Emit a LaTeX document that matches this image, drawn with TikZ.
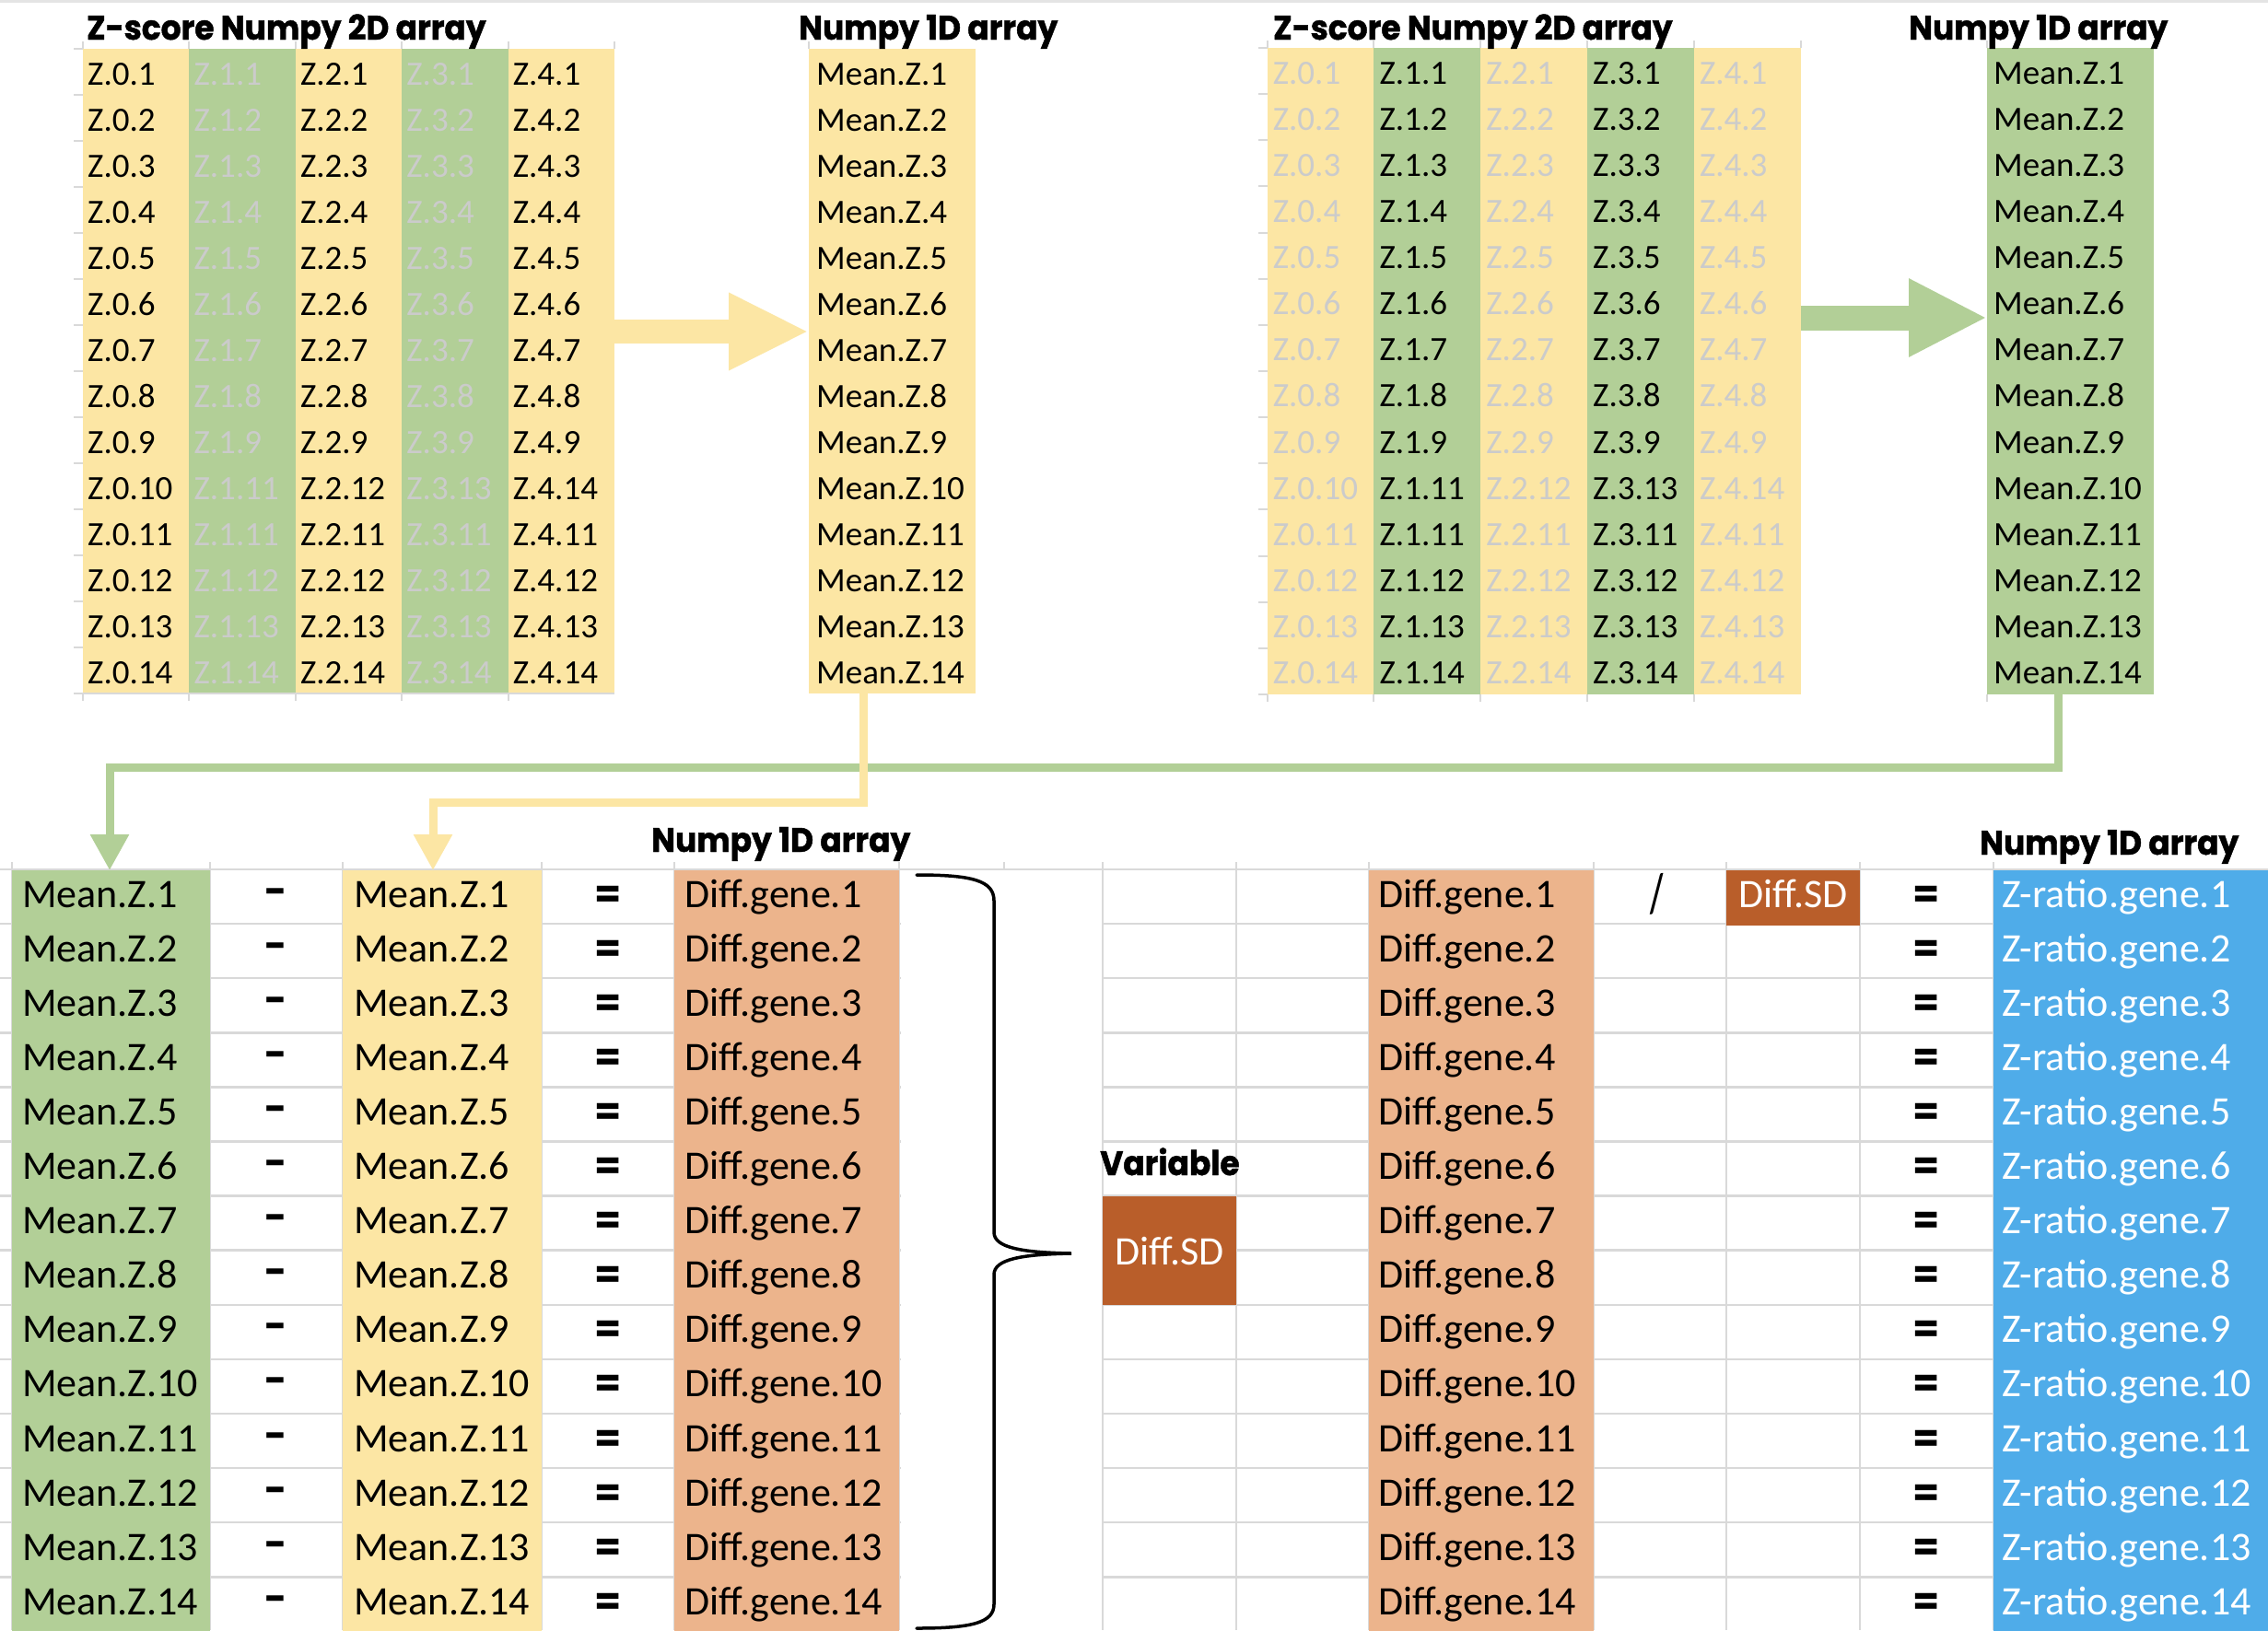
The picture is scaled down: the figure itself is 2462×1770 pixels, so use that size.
\documentclass[tikz,border=0pt]{standalone}
\usepackage{fontspec}
\setmainfont{Carlito}
\newfontfamily\headfont{Poppins}[FakeStretch=0.93,FakeBold=1.2]
\newfontfamily\symfont{Poppins}
\usetikzlibrary{arrows.meta,calc}
\definecolor{yel}{HTML}{FCE6A4}
\definecolor{grn}{HTML}{B2CF97}
\definecolor{org}{HTML}{ECB48C}
\definecolor{dorg}{HTML}{B95E2A}
\definecolor{blu}{HTML}{4FACE9}
\definecolor{fade}{HTML}{CBCBCB}
\definecolor{gridc}{HTML}{D9D9D9}
\definecolor{topline}{HTML}{E4E4E4}
\begin{document}
\begin{tikzpicture}[x=1pt,y=-1pt,
  head/.style={font=\headfont\bfseries\fontsize{37}{37}\selectfont, inner sep=0, anchor=base west},
  tcell/.style={font=\fontsize{37}{37}\selectfont, inner sep=0, anchor=base west},
  bcell/.style={font=\fontsize{44}{44}\selectfont, inner sep=0, anchor=base west},
  bsym/.style={font=\symfont\bfseries\fontsize{42}{42}\selectfont, inner sep=0, anchor=base},
  colbox/.style={inner sep=0, outer sep=0, anchor=north west, draw=none},
  gridl/.style={draw=gridc, line width=2.5pt},
  tick/.style={draw=gridc, line width=2pt},
  conn/.style={line width=9pt, line join=miter, -{Triangle[length=39pt,width=40pt]}}
]
\useasboundingbox (0,0) rectangle (2462,1770);
\fill[white] (0,0) rectangle (2462,1770);
\draw[draw=topline, line width=3pt] (0,1.5) -- (2462,1.5);

% ---------- top-left 2D table ----------
\foreach \c/\col/\tc in {0/yel/black,1/grn/fade,2/yel/black,3/grn/fade,4/yel/black}{
  \node[colbox, fill=\col, minimum width=115.4pt, minimum height=700pt] (TL\c) at ({90+115.4*\c},53) {};
  \draw[tick] ({90+115.4*\c},45) -- ({90+115.4*\c},53);
  \draw[tick] ({90+115.4*\c},753) -- ({90+115.4*\c},761);
  \foreach \r in {1,...,14}{
    \pgfmathtruncatemacro\n{ifthenelse(\r==10,10+\c,\r)}
    \node[tcell, text=\tc] (tl-\c-\r) at ({90+115.4*\c+5},{53+50*(\r-1)+39}) {Z.\c.\n};
  }
}
\draw[tick] (667,45) -- (667,53);
\foreach \k in {0,...,14} \draw[tick] (80,{53+50*\k}) -- (90,{53+50*\k});
\draw[tick] (80,753) -- (667,753);

% ---------- top-left 1D array ----------
\node[colbox, fill=yel, minimum width=181pt, minimum height=700pt] (M1) at (878,53) {};
\draw[tick] (878,45) -- (878,53);
\foreach \r in {1,...,14}
  \node[tcell] (m1-\r) at (886,{53+50*(\r-1)+39}) {Mean.Z.\r};

% ---------- top-right 2D table ----------
\foreach \c/\col/\tc in {0/yel/fade,1/grn/black,2/yel/fade,3/grn/black,4/yel/fade}{
  \node[colbox, fill=\col, minimum width=115.8pt, minimum height=702pt] (TR\c) at ({1375.6+115.8*\c},52) {};
  \draw[tick] ({1375.6+115.8*\c},44) -- ({1375.6+115.8*\c},52);
  \draw[tick] ({1375.6+115.8*\c},754) -- ({1375.6+115.8*\c},762);
  \foreach \r in {1,...,14}{
    \pgfmathtruncatemacro\n{ifthenelse(\r==10,10+\c,\r)}
    \node[tcell, text=\tc] (tr-\c-\r) at ({1375.6+115.8*\c+6},{52+50.14*(\r-1)+39}) {Z.\c.\n};
  }
}
\draw[tick] (1954.6,44) -- (1954.6,52);
\foreach \k in {0,...,14} \draw[tick] (1366,{52+50.14*\k}) -- (1375.6,{52+50.14*\k});

% ---------- top-right 1D array ----------
\node[colbox, fill=grn, minimum width=181pt, minimum height=702pt] (M2) at (2157,52) {};
\draw[tick] (2157,44) -- (2157,52);
\draw[tick] (2157,754) -- (2157,762);
\foreach \r in {1,...,14}
  \node[tcell] (m2-\r) at (2164,{52+50.14*(\r-1)+39}) {Mean.Z.\r};

% ---------- headings ----------
\node[head] (h1) at (94,43) {Z-score Numpy 2D array};
\node[head] (h2) at (867,43) {Numpy 1D array};
\node[head] (h3) at (1382,43) {Z-score Numpy 2D array};
\node[head] (h4) at (2072,43) {Numpy 1D array};

% ---------- block arrows ----------
\draw[yel, line width=26pt, -{Triangle[length=87pt,width=78pt]}] (TL4.east |- 0,360) -- (M1.west |- 0,360);
\draw[grn, line width=27pt, -{Triangle[length=85pt,width=79pt]}] (TR4.east |- 0,345) -- (M2.west |- 0,345);

% ---------- bottom grid ----------
\foreach \k in {0,...,13} \draw[gridl] (0,{944+59.1*\k}) -- (2462,{944+59.1*\k});
\foreach \x in {13,228,372,588,732,976,1197,1342,1486,1730,1874,2019,2164}
  \draw[gridl] (\x,936) -- (\x,1770);
\draw[gridl] (1090,936) -- (1090,944);

\node[colbox, fill=grn, minimum width=215pt, minimum height=826pt] (B0) at (13,945) {};
\node[colbox, fill=yel, minimum width=216pt, minimum height=826pt] (B2) at (372,945) {};
\node[colbox, fill=org, minimum width=244pt, minimum height=826pt] (B4) at (732,945) {};
\node[colbox, fill=org, minimum width=244pt, minimum height=826pt] (B7) at (1486,945) {};
\node[colbox, fill=blu, minimum width=298pt, minimum height=826pt] (B10) at (2164,945) {};
\fill[white] (977.5,946.5) rectangle (1195.5,1770);

% ---------- bottom texts ----------
\foreach \r in {1,...,14}{
  \pgfmathsetmacro\yb{944+59.1*(\r-1)+41}
  \node[bcell] (bg-\r) at (24,\yb) {Mean.Z.\r};
  \node[bsym] (bm-\r) at (300,{\yb-3}) {-};
  \node[bcell] (by-\r) at (384,\yb) {Mean.Z.\r};
  \node[bsym] (be-\r) at (660,\yb) {=};
  \node[bcell] (bo-\r) at (743,\yb) {Diff.gene.\r};
  \node[bcell] (bd-\r) at (1496,\yb) {Diff.gene.\r};
  \node[bsym] (bq-\r) at (2091.5,\yb) {=};
  \node[bcell, text=white] (bz-\r) at (2173,\yb) {Z-ratio.gene.\r};
}
\node[colbox, fill=dorg, minimum width=145pt, minimum height=60pt] (SD1) at (1874,944.5) {};
\node[bcell, anchor=base, text=white] (sd1t) at (1946.5,985) {Diff.SD};
\node[font=\bfseries\fontsize{60}{60}\selectfont, inner sep=0, anchor=base] (slash) at (1799,990) {\scalebox{0.55}[1]{/}};

\node[head] (h5) at (707,925) {Numpy 1D array};
\node[head] (h6) at (2149,928) {Numpy 1D array};
\node[head] (h7) at (1194,1276) {Variable};
\node[colbox, fill=dorg, minimum width=145pt, minimum height=118pt] (VSD) at (1197,1298.6) {};
\node[bcell, anchor=base, text=white] (vsdt) at (1269.5,1373) {Diff.SD};

% ---------- brace ----------
\draw[line width=3.5pt, line cap=round]
  (995,950) .. controls (1055,950) and (1079,956) .. (1079,978)
  -- (1079,1338) .. controls (1079,1355) and (1110,1360) .. (1163,1361)
  .. controls (1110,1362) and (1079,1367) .. (1079,1384)
  -- (1079,1742) .. controls (1079,1762) and (1055,1768) .. (995,1768);

% ---------- connectors ----------
\draw[grn, conn] (M2.south -| 2234,0) -- (2234,833.5) -- (119,833.5) -- (B0.north -| 119,0);
\draw[yel, conn] (M1.south -| 937,0) -- (937,871) -- (470,871) -- (B2.north -| 470,0);
\end{tikzpicture}
\end{document}
